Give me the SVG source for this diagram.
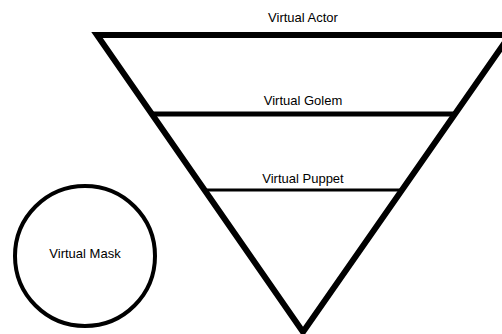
<svg xmlns="http://www.w3.org/2000/svg" width="502" height="334" viewBox="0 0 502 334">
  <style>
    .lbl { font-family: "Liberation Sans", Arial, sans-serif; font-size: 13px; fill: #000; text-anchor: middle; dominant-baseline: central; }
    .shape { fill: none; stroke: #000; }
  </style>
  <rect width="502" height="334" fill="#fff"/>
  <g id="pyramid">
    <polygon class="shape" points="97,35 510,35 303,332" stroke-width="6" stroke-linejoin="miter" stroke-miterlimit="10"/>
  </g>
  <g id="connectors">
    <line class="shape" x1="152" y1="114" x2="455" y2="114" stroke-width="5"/>
    <line class="shape" x1="205" y1="190" x2="402" y2="190" stroke-width="3"/>
  </g>
  <g id="virtual-actor">
    <text class="lbl" x="303" y="17">Virtual Actor</text>
  </g>
  <g id="virtual-golem">
    <text class="lbl" x="303" y="100">Virtual Golem</text>
  </g>
  <g id="virtual-puppet">
    <text class="lbl" x="303" y="178">Virtual Puppet</text>
  </g>
  <g id="virtual-mask">
    <circle class="shape" cx="85" cy="256" r="70" stroke-width="4"/>
    <text class="lbl" x="85" y="253">Virtual Mask</text>
  </g>
</svg>
